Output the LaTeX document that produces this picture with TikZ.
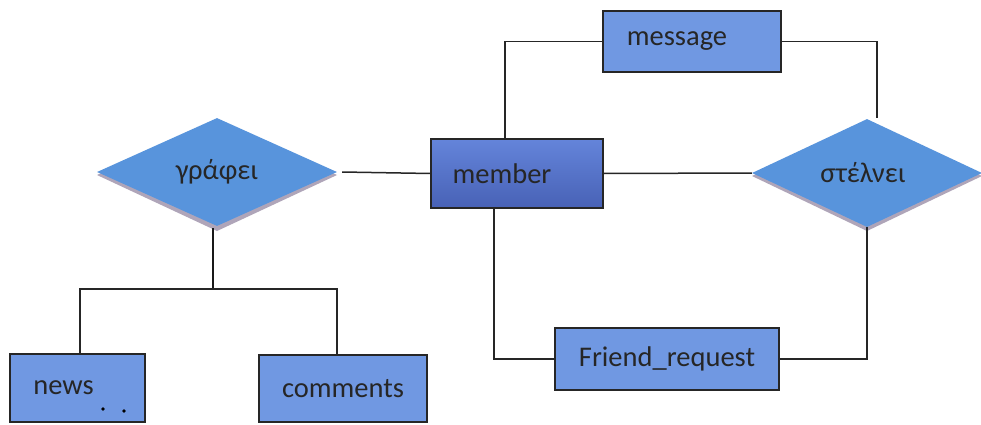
\documentclass[tikz,border=0pt]{standalone}
\usepackage{fontspec}
\setmainfont{Carlito}
\usetikzlibrary{shapes.geometric}
\begin{document}
\begin{tikzpicture}[x=1pt,y=-1pt,
  every node/.style={font=\fontsize{28.5}{32}\selectfont, text=black!85},
  entity/.style={draw=black!85, line width=1.5pt, fill=boxblue, rectangle, inner sep=0pt},
  relation/.style={diamond, fill=diablue, inner sep=0pt, aspect=2.2},
  wire/.style={draw=black!85, line width=1.5pt}]
\definecolor{boxblue}{RGB}{112,152,226}
\definecolor{diablue}{RGB}{88,148,220}
\definecolor{memtop}{RGB}{100,132,218}
\definecolor{membot}{RGB}{72,98,182}
\definecolor{rim}{RGB}{175,165,185}
\useasboundingbox (0,0) rectangle (981,425);
\fill[white] (0,0) rectangle (981,425);

% entities
\node[entity, minimum width=178, minimum height=61] (message) at (692,41.5) {\hspace*{-30pt}message};
\node[draw=black!85, line width=1.5pt, rectangle, inner sep=0pt, minimum width=172, minimum height=69,
      top color=memtop, bottom color=membot] (member) at (517,173.5) {\hspace*{-30pt}member};
\node[entity, minimum width=135, minimum height=68] (news) at (77.5,388) {\hspace*{-28pt}news};
\node[entity, minimum width=168, minimum height=67] (comments) at (343,388.5) {comments};
\node[entity, minimum width=224, minimum height=62] (friend) at (667,359) {Friend\_request};

% relationships, each with a thin grey rim beneath
\fill[rim] (97,175) -- (217,121) -- (337,175) -- (217,231) -- cycle;
\node[relation, minimum width=240, minimum height=108] (writes) at (217,172) {γράφει};
\fill[rim] (752,176) -- (867,122) -- (982,176) -- (867,231) -- cycle;
\node[relation, minimum width=230, minimum height=108] (sends) at (867,173) {\hspace*{-8pt}στέλνει};

% small marks inside the news box
\fill (103,409) circle (1.8);
\fill (124,411) circle (1.8);

% connectors
\coordinate (wT) at (213,228);
\coordinate (bar) at (213,289);
\draw[wire] (writes.east) ++(5,0) -- (member.west);
\draw[wire] (member.east) -- (sends.west);
\draw[wire] (member.north -| 505,0) |- (message.west);
\draw[wire] (message.east) -| (877,118);
\draw[wire] (member.south -| 494,0) |- (friend.west);
\draw[wire] (friend.east) -| (sends.south);
\draw[line width=2.8pt, black!90] (wT) -- (bar);
\draw[wire] (news.north -| 80,0) |- (bar) -| (comments.north -| 337,0);
\end{tikzpicture}
\end{document}
